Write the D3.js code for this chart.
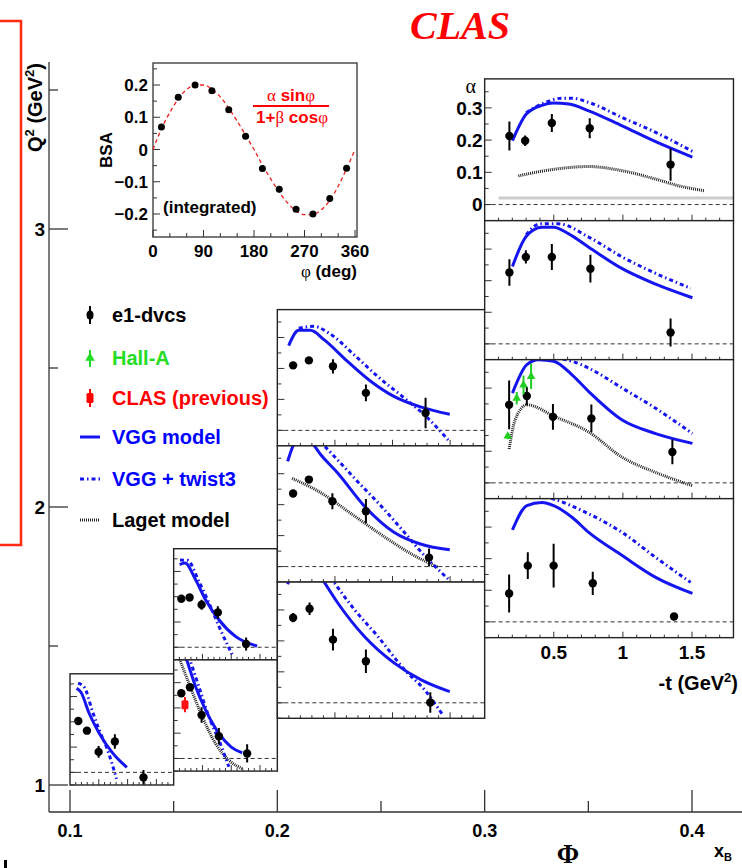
<!DOCTYPE html>
<html>
<head>
<meta charset="utf-8">
<script src="https://cdn.jsdelivr.net/npm/d3@7"></script>
<style>
  body { margin: 0; background: #fff; }
  svg { display: block; }
  text { font-family: "Liberation Sans", Arial, sans-serif; font-weight: bold; }
  .serif { font-family: "Liberation Serif", "Times New Roman", serif; }
</style>
</head>
<body>
<script>
// inset: integrated beam spin asymmetry
const bsaPhi = [15, 45, 75, 105, 135, 165, 195, 225, 255, 285, 315, 345];
const bsaVal = [0.070, 0.162, 0.200, 0.182, 0.123, 0.041, -0.059, -0.123, -0.185, -0.200, -0.152, -0.058];
const fitPhi = [0, 15, 30, 45, 60, 75, 90, 105, 120, 135, 150, 165, 180, 195, 210, 225, 240, 255, 270, 285, 300, 315, 330, 345, 360];
const fitVal = [0, 0.064, 0.115, 0.157, 0.186, 0.200, 0.200, 0.187, 0.163, 0.128, 0.088, 0.045, 0.0, -0.048, -0.092, -0.132, -0.166, -0.190, -0.202, -0.201, -0.187, -0.158, -0.114, -0.060, 0.0];

// main grid: x_B bins and Q2 bins of the small panels
const panelIds = ["1a", "2a", "2b", "3a", "3b", "3c", "4a", "4b", "4c", "4d"];
const panelXB = [[0.1, 0.15], [0.15, 0.2], [0.15, 0.2], [0.2, 0.3], [0.2, 0.3], [0.2, 0.3], [0.3, 0.42], [0.3, 0.42], [0.3, 0.42], [0.3, 0.42]];
const panelQ2 = [[1.0, 1.40], [1.45, 1.85], [1.05, 1.45], [2.22, 2.71], [1.73, 2.22], [1.24, 1.73], [3.03, 3.54], [2.53, 3.03], [2.03, 2.53], [1.53, 2.03]];

// e1-dvcs alpha vs -t in each panel
const e1T = [
  [0.144, 0.294, 0.497, 0.779, 1.276],
  [0.133, 0.277, 0.485, 0.767, 1.258],
  [0.133, 0.283, 0.485, 0.785, 1.276],
  [0.137, 0.274, 0.483, 0.769, 1.287],
  [0.137, 0.274, 0.478, 0.769, 1.317],
  [0.137, 0.280, 0.483, 0.769, 1.328],
  [0.179, 0.293, 0.486, 0.760, 1.345],
  [0.179, 0.298, 0.486, 0.765, 1.345],
  [0.177, 0.305, 0.494, 0.772, 1.358],
  [0.177, 0.312, 0.499, 0.782, 1.370]
];
const e1A = [
  [0.203, 0.165, 0.081, 0.122, -0.020],
  [0.192, 0.197, 0.168, 0.138, 0.013],
  [0.258, 0.282, 0.172, 0.088, 0.020],
  [0.210, 0.226, 0.207, 0.121, 0.056],
  [0.236, 0.281, 0.211, 0.179, 0.029],
  [0.275, 0.304, 0.204, 0.134, 0.001],
  [0.213, 0.198, 0.253, 0.237, 0.124],
  [0.226, 0.275, 0.275, 0.238, 0.036],
  [0.247, 0.275, 0.209, 0.204, 0.098],
  [0.090, 0.178, 0.178, 0.122, 0.017]
];
const e1E = [
  [0.012, 0.012, 0.023, 0.029, 0.029],
  [0.008, 0.008, 0.020, 0.024, 0.026],
  [0.010, 0.015, 0.031, 0.033, 0.036],
  [0.010, 0.010, 0.023, 0.027, 0.049],
  [0.010, 0.010, 0.026, 0.039, 0.029],
  [0.015, 0.020, 0.035, 0.038, 0.033],
  [0.045, 0.016, 0.028, 0.031, 0.050],
  [0.042, 0.021, 0.041, 0.044, 0.044],
  [0.077, 0.029, 0.041, 0.044, 0.039],
  [0.060, 0.042, 0.069, 0.037, 0.008]
];

// model curves, [ -t, alpha ] pairs
const vggCurve = [
  [[0.115, 0.333], [0.19, 0.317], [0.334, 0.233], [0.507, 0.155], [0.738, 0.077], [0.987, 0.020]],
  [[0.104, 0.327], [0.196, 0.333], [0.381, 0.267], [0.554, 0.188], [0.785, 0.109], [1.073, 0.043], [1.448, 0.005]],
  [[0.12, 0.46], [0.237, 0.383], [0.381, 0.284], [0.554, 0.192], [0.785, 0.099], [1.0, 0.045], [1.19, 0.022]],
  [[0.099, 0.274], [0.186, 0.323], [0.288, 0.323], [0.405, 0.293], [0.609, 0.223], [0.813, 0.158], [1.016, 0.109], [1.249, 0.075], [1.497, 0.052]],
  [[0.09, 0.34], [0.15, 0.40], [0.22, 0.42], [0.30, 0.40], [0.376, 0.362], [0.522, 0.303], [0.754, 0.196], [1.016, 0.110], [1.249, 0.072], [1.497, 0.054]],
  [[0.09, 0.383], [0.18, 0.45], [0.29, 0.46], [0.39, 0.40], [0.522, 0.324], [0.754, 0.215], [1.016, 0.128], [1.249, 0.074], [1.497, 0.036]],
  [[0.201, 0.198], [0.30, 0.280], [0.414, 0.308], [0.499, 0.315], [0.608, 0.312], [0.753, 0.291], [0.995, 0.244], [1.237, 0.195], [1.503, 0.147]],
  [[0.201, 0.245], [0.30, 0.340], [0.414, 0.369], [0.499, 0.369], [0.608, 0.348], [0.753, 0.306], [0.995, 0.238], [1.237, 0.189], [1.503, 0.146]],
  [[0.201, 0.284], [0.305, 0.374], [0.39, 0.390], [0.499, 0.385], [0.632, 0.342], [0.753, 0.289], [0.995, 0.199], [1.237, 0.156], [1.503, 0.125]],
  [[0.201, 0.291], [0.305, 0.368], [0.414, 0.378], [0.499, 0.368], [0.632, 0.331], [0.753, 0.283], [0.995, 0.210], [1.237, 0.141], [1.503, 0.090]]
];
const twistCurve = [
  [[0.14, 0.353], [0.248, 0.337], [0.392, 0.240], [0.507, 0.168], [0.67, 0.077], [0.767, 0.006], [0.808, -0.026]],
  [[0.11, 0.345], [0.237, 0.344], [0.438, 0.261], [0.611, 0.176], [0.813, 0.069], [1.016, -0.030]],
  [[0.20, 0.45], [0.294, 0.383], [0.438, 0.284], [0.611, 0.165], [0.785, 0.073], [0.958, -0.033]],
  [[0.186, 0.330], [0.317, 0.336], [0.448, 0.314], [0.667, 0.244], [0.871, 0.174], [1.104, 0.104], [1.308, 0.039], [1.483, -0.031]],
  [[0.25, 0.43], [0.405, 0.390], [0.522, 0.345], [0.696, 0.275], [0.90, 0.196], [1.104, 0.110], [1.278, 0.035], [1.483, -0.040]],
  [[0.30, 0.50], [0.492, 0.390], [0.667, 0.302], [0.871, 0.215], [1.104, 0.107], [1.278, 0.042], [1.438, -0.040]],
  [[0.30, 0.285], [0.438, 0.317], [0.559, 0.330], [0.63, 0.330], [0.753, 0.317], [0.995, 0.270], [1.237, 0.224], [1.503, 0.165]],
  [[0.30, 0.345], [0.40, 0.380], [0.535, 0.380], [0.753, 0.338], [0.995, 0.275], [1.237, 0.223], [1.49, 0.176]],
  [[0.40, 0.400], [0.632, 0.385], [0.753, 0.363], [0.995, 0.300], [1.237, 0.236], [1.503, 0.156]],
  [[0.40, 0.400], [0.51, 0.387], [0.753, 0.342], [0.995, 0.283], [1.237, 0.204], [1.49, 0.125]]
];
const lagetCurve = [
  null, null,
  [[0.09, 0.40], [0.265, 0.297], [0.497, 0.165], [0.727, 0.059], [0.958, -0.007], [1.19, -0.040]],
  null,
  [[0.128, 0.285], [0.376, 0.239], [0.667, 0.164], [0.958, 0.089], [1.191, 0.035], [1.395, -0.002]],
  null,
  [[0.244, 0.089], [0.511, 0.110], [0.753, 0.118], [0.995, 0.105], [1.237, 0.079], [1.406, 0.058], [1.587, 0.043]],
  null,
  [[0.177, 0.107], [0.22, 0.199], [0.305, 0.247], [0.511, 0.209], [0.753, 0.161], [0.995, 0.081], [1.237, 0.033], [1.503, -0.009]],
  null
];

// other data sets
const hallAPanel = "4c";
const hallAT = [0.167, 0.232, 0.281, 0.336];
const hallAA = [0.148, 0.268, 0.310, 0.337];
const hallAE = [0.010, 0.020, 0.030, 0.040];
const clasPrevPanel = "2b";
const clasPrevT = [0.196];
const clasPrevA = [0.213];
const clasPrevE = [0.030];
const greyBandPanel = "4a";
const greyBand = [[0.1, 0.02], [1.8, 0.02]];

const legendLabels = ["e1-dvcs", "Hall-A", "CLAS (previous)", "VGG model", "VGG + twist3", "Laget model"];
const legendColors = ["#000", "#22dd22", "#ff0000", "#0000ff", "#0000ff", "#000"];

const q2Ticks = [1, 1.5, 2, 2.5, 3, 3.5];
const xbTicks = [0.1, 0.15, 0.2, 0.25, 0.3, 0.35, 0.4];

// ---- drawing ----
const blue = "#1515f0";
const svg = d3.select("body").append("svg").attr("width", 742).attr("height", 868);
const defs = svg.append("defs");

// big frame scales
const x = d3.scaleLinear().domain([0.1, 0.4]).range([70, 692]);
const y = d3.scaleLinear().domain([1, 3]).range([785, 229]);
const axL = 49, axB = 812;

// red box on the left
svg.append("rect").attr("x", -10).attr("y", 21).attr("width", 31).attr("height", 524)
  .attr("fill", "none").attr("stroke", "#ff2a10").attr("stroke-width", 2.5);

// title
svg.append("text").attr("class", "serif").attr("x", 460).attr("y", 39)
  .attr("text-anchor", "middle").style("font-size", "40px").style("font-style", "italic")
  .attr("fill", "#ff0000").text("CLAS");

// main axes
svg.append("line").attr("x1", axL).attr("x2", axL).attr("y1", 62).attr("y2", axB)
  .attr("stroke", "#333").attr("stroke-width", 1.3);
svg.append("line").attr("x1", axL).attr("x2", 742).attr("y1", axB).attr("y2", axB)
  .attr("stroke", "#333").attr("stroke-width", 1.3);

q2Ticks.forEach(q => {
  const major = Number.isInteger(q);
  svg.append("line").attr("x1", axL).attr("x2", axL + (major ? 19 : 9))
    .attr("y1", y(q)).attr("y2", y(q)).attr("stroke", "#333").attr("stroke-width", 1.3);
  if (major) svg.append("text").attr("x", axL - 4).attr("y", y(q)).attr("dy", "0.36em")
    .attr("text-anchor", "end").style("font-size", "19px").text(q);
});
xbTicks.forEach(v => {
  const major = Math.abs(v * 10 - Math.round(v * 10)) < 1e-6;
  svg.append("line").attr("x1", x(v)).attr("x2", x(v)).attr("y1", axB).attr("y2", axB - (major ? 22 : 11))
    .attr("stroke", "#333").attr("stroke-width", 1.3);
  if (major) svg.append("text").attr("x", x(v)).attr("y", 837).attr("text-anchor", "middle")
    .style("font-size", "18px").text(d3.format(".1f")(v));
});

// Q2 title
const q2t = svg.append("text").attr("transform", "translate(42,63) rotate(-90)")
  .attr("text-anchor", "end").style("font-size", "20px");
q2t.append("tspan").text("Q");
q2t.append("tspan").attr("dy", -8).style("font-size", "13px").text("2");
q2t.append("tspan").attr("dy", 8).text(" (GeV");
q2t.append("tspan").attr("dy", -8).style("font-size", "13px").text("2");
q2t.append("tspan").attr("dy", 8).text(")");

// x title
svg.append("text").attr("class", "serif").attr("x", 568).attr("y", 863).attr("text-anchor", "middle")
  .style("font-size", "27px").text("Φ");
const xbt = svg.append("text").attr("x", 714).attr("y", 857).style("font-size", "18px");
xbt.append("tspan").text("x");
xbt.append("tspan").attr("dy", 4).style("font-size", "11px").text("B");
svg.append("rect").attr("x", 4).attr("y", 860).attr("width", 3).attr("height", 8).attr("fill", "#000");

// ---- inset BSA ----
const bx = d3.scaleLinear().domain([0, 360]).range([153, 355]);
const by = d3.scaleLinear().domain([-0.2, 0.2]).range([214, 85]);
const ins = svg.append("g");
ins.append("rect").attr("x", 153).attr("y", 63).attr("width", 204).attr("height", 174)
  .attr("fill", "none").attr("stroke", "#333").attr("stroke-width", 1.3);
d3.range(-0.25, 0.2501, 0.05).forEach(v => {
  const major = Math.abs(v * 10 - Math.round(v * 10)) < 1e-6;
  ins.append("line").attr("x1", 153).attr("x2", 153 + (major ? 7 : 4)).attr("y1", by(v)).attr("y2", by(v))
    .attr("stroke", "#333");
});
[-0.2, -0.1, 0, 0.1, 0.2].forEach(v => {
  ins.append("text").attr("x", 148).attr("y", by(v)).attr("dy", "0.36em").attr("text-anchor", "end")
    .style("font-size", "17px").text(v === 0 ? "0" : d3.format(".1f")(v));
});
d3.range(0, 361, 30).forEach(v => {
  const major = v % 90 === 0;
  ins.append("line").attr("x1", bx(v)).attr("x2", bx(v)).attr("y1", 237).attr("y2", 237 - (major ? 7 : 4))
    .attr("stroke", "#333");
  if (major) ins.append("text").attr("x", bx(v)).attr("y", 257).attr("text-anchor", "middle")
    .style("font-size", "17px").text(v);
});
const phiT = ins.append("text").attr("x", 357).attr("y", 277).attr("text-anchor", "end").style("font-size", "17px");
phiT.append("tspan").attr("class", "serif").style("font-weight", "normal").text("φ");
phiT.append("tspan").text(" (deg)");
ins.append("text").attr("transform", "translate(112,150) rotate(-90)").attr("text-anchor", "middle")
  .style("font-size", "17px").text("BSA");
ins.append("text").attr("x", 163).attr("y", 213).style("font-size", "17px").text("(integrated)");

const fitLine = d3.line().x((d, i) => bx(fitPhi[i])).y(d => by(d)).curve(d3.curveMonotoneX);
ins.append("path").attr("d", fitLine(fitVal)).attr("fill", "none").attr("stroke", "#ee2222")
  .attr("stroke-width", 1.3).attr("stroke-dasharray", "4,3");
ins.selectAll("circle.bsa").data(bsaVal).enter().append("circle")
  .attr("cx", (d, i) => bx(bsaPhi[i])).attr("cy", d => by(d)).attr("r", 3.5).attr("fill", "#000");

// formula
const num = ins.append("text").attr("x", 291).attr("y", 101).attr("text-anchor", "middle")
  .style("font-size", "17px").attr("fill", "#ff0000");
num.append("tspan").attr("class", "serif").style("font-weight", "normal").text("α");
num.append("tspan").text(" sin");
num.append("tspan").attr("class", "serif").style("font-weight", "normal").text("φ");
ins.append("line").attr("x1", 253).attr("x2", 329).attr("y1", 106).attr("y2", 106)
  .attr("stroke", "#ff0000").attr("stroke-width", 2);
const den = ins.append("text").attr("x", 292).attr("y", 123).attr("text-anchor", "middle")
  .style("font-size", "17px").attr("fill", "#ff0000");
den.append("tspan").text("1+");
den.append("tspan").attr("class", "serif").style("font-weight", "normal").text("β");
den.append("tspan").text(" cos");
den.append("tspan").attr("class", "serif").style("font-weight", "normal").text("φ");

// ---- legend ----
const legY = [315, 358, 398, 437, 479, 520];
const leg = svg.append("g");
legendLabels.forEach((lab, i) => {
  const yy = legY[i];
  if (i === 0) {
    leg.append("line").attr("x1", 90).attr("x2", 90).attr("y1", yy - 9).attr("y2", yy + 9).attr("stroke", "#000").attr("stroke-width", 2);
    leg.append("ellipse").attr("cx", 90).attr("cy", yy).attr("rx", 3.5).attr("ry", 4.5).attr("fill", "#000");
  } else if (i === 1) {
    leg.append("line").attr("x1", 90).attr("x2", 90).attr("y1", yy - 8).attr("y2", yy + 9).attr("stroke", legendColors[1]).attr("stroke-width", 2);
    leg.append("path").attr("d", d3.symbol(d3.symbolTriangle, 40)()).attr("transform", `translate(90,${yy})`).attr("fill", legendColors[1]);
  } else if (i === 2) {
    leg.append("line").attr("x1", 90).attr("x2", 90).attr("y1", yy - 9).attr("y2", yy + 9).attr("stroke", legendColors[2]).attr("stroke-width", 2);
    leg.append("rect").attr("x", 86.5).attr("y", yy - 5).attr("width", 7).attr("height", 10).attr("rx", 1.5).attr("fill", legendColors[2]);
  } else {
    const dash = i === 3 ? null : i === 4 ? "4,3,1.5,3" : "1,1";
    leg.append("line").attr("x1", 80).attr("x2", 100).attr("y1", yy).attr("y2", yy)
      .attr("stroke", i === 5 ? "#222" : blue).attr("stroke-width", 3).attr("stroke-dasharray", dash);
  }
  leg.append("text").attr("x", 112).attr("y", yy).attr("dy", "0.36em").style("font-size", "20px")
    .attr("fill", legendColors[i]).text(lab);
});

// ---- small panels ----
const tDom = [0, 1.8], aDom = [-0.05, 0.39];
panelIds.forEach((id, i) => {
  const px = d3.scaleLinear().domain(tDom).range([x(panelXB[i][0]), x(panelXB[i][1])]);
  const py = d3.scaleLinear().domain(aDom).range([y(panelQ2[i][0]), y(panelQ2[i][1])]);
  const [l, r] = px.range(), [b, t] = py.range();
  defs.append("clipPath").attr("id", "clip" + id)
    .append("rect").attr("x", l).attr("y", t).attr("width", r - l).attr("height", b - t);
  const g = svg.append("g");
  g.append("rect").attr("x", l).attr("y", t).attr("width", r - l).attr("height", b - t).attr("fill", "#fff");
  const c = g.append("g").attr("clip-path", `url(#clip${id})`);
  const line = d3.line().x(d => px(d[0])).y(d => py(d[1])).curve(d3.curveMonotoneX);

  c.append("line").attr("x1", l).attr("x2", r).attr("y1", py(0)).attr("y2", py(0))
    .attr("stroke", "#333").attr("stroke-width", 1).attr("stroke-dasharray", "4,3");
  if (id === greyBandPanel) {
    c.append("path").attr("d", d3.line().x(d => px(d[0])).y(d => py(d[1]))(greyBand))
      .attr("stroke", "#cccccc").attr("stroke-width", 3).attr("fill", "none");
  }
  if (lagetCurve[i]) c.append("path").attr("d", line(lagetCurve[i])).attr("fill", "none")
    .attr("stroke", "#222").attr("stroke-width", 3).attr("stroke-dasharray", "1,1");
  c.append("path").attr("d", line(twistCurve[i])).attr("fill", "none")
    .attr("stroke", blue).attr("stroke-width", 3).attr("stroke-dasharray", "4,3,1.5,3");
  c.append("path").attr("d", line(vggCurve[i])).attr("fill", "none")
    .attr("stroke", blue).attr("stroke-width", 3);

  const drawPts = (T, A, E, color, shape) => {
    T.forEach((tv, k) => {
      c.append("line").attr("x1", px(tv)).attr("x2", px(tv))
        .attr("y1", py(A[k] - E[k])).attr("y2", py(A[k] + E[k])).attr("stroke", color).attr("stroke-width", 2);
      if (shape === "circle") c.append("circle").attr("cx", px(tv)).attr("cy", py(A[k])).attr("r", 4.2).attr("fill", color);
      else if (shape === "tri") c.append("path").attr("d", d3.symbol(d3.symbolTriangle, 32)())
        .attr("transform", `translate(${px(tv)},${py(A[k])})`).attr("fill", color);
      else c.append("rect").attr("x", px(tv) - 3.5).attr("y", py(A[k]) - 4.5).attr("width", 7).attr("height", 9)
        .attr("rx", 1.5).attr("fill", color);
    });
  };
  drawPts(e1T[i], e1A[i], e1E[i], "#000", "circle");
  if (id === hallAPanel) drawPts(hallAT, hallAA, hallAE, "#22cc22", "tri");
  if (id === clasPrevPanel) drawPts(clasPrevT, clasPrevA, clasPrevE, "#ff1111", "rect");

  // frame and inner ticks
  g.append("rect").attr("x", l).attr("y", t).attr("width", r - l).attr("height", b - t)
    .attr("fill", "none").attr("stroke", "#222").attr("stroke-width", 1.4);
  d3.range(-0.05, 0.3501, 0.05).forEach(a => {
    const major = Math.abs(a * 10 - Math.round(a * 10)) < 1e-6;
    g.append("line").attr("x1", l).attr("x2", l + (major ? 7 : 4)).attr("y1", py(a)).attr("y2", py(a))
      .attr("stroke", "#333").attr("stroke-width", 1);
  });
  d3.range(0.1, 1.7501, 0.1).forEach(tv => {
    const major = Math.abs(tv * 2 - Math.round(tv * 2)) < 1e-6;
    g.append("line").attr("x1", px(tv)).attr("x2", px(tv)).attr("y1", b).attr("y2", b - (major ? 6 : 3))
      .attr("stroke", "#333").attr("stroke-width", 1);
  });

  if (id === "4a") {
    [0, 0.1, 0.2, 0.3].forEach(a => {
      g.append("text").attr("x", l - 2).attr("y", py(a)).attr("dy", "0.36em").attr("text-anchor", "end")
        .style("font-size", "19px").text(a === 0 ? "0" : d3.format(".1f")(a));
    });
    g.append("text").attr("class", "serif").attr("x", l - 14).attr("y", t + 14).attr("text-anchor", "middle")
      .style("font-size", "20px").style("font-weight", "normal").text("α");
  }
  if (id === "4d") {
    [0.5, 1, 1.5].forEach(tv => {
      g.append("text").attr("x", px(tv)).attr("y", b + 21).attr("text-anchor", "middle")
        .style("font-size", "19px").text(tv);
    });
    const tt = g.append("text").attr("x", 738).attr("y", 690).attr("text-anchor", "end").style("font-size", "20px");
    tt.append("tspan").text("-t (GeV");
    tt.append("tspan").attr("dy", -8).style("font-size", "13px").text("2");
    tt.append("tspan").attr("dy", 8).text(")");
  }
});
</script>
</body>
</html>
